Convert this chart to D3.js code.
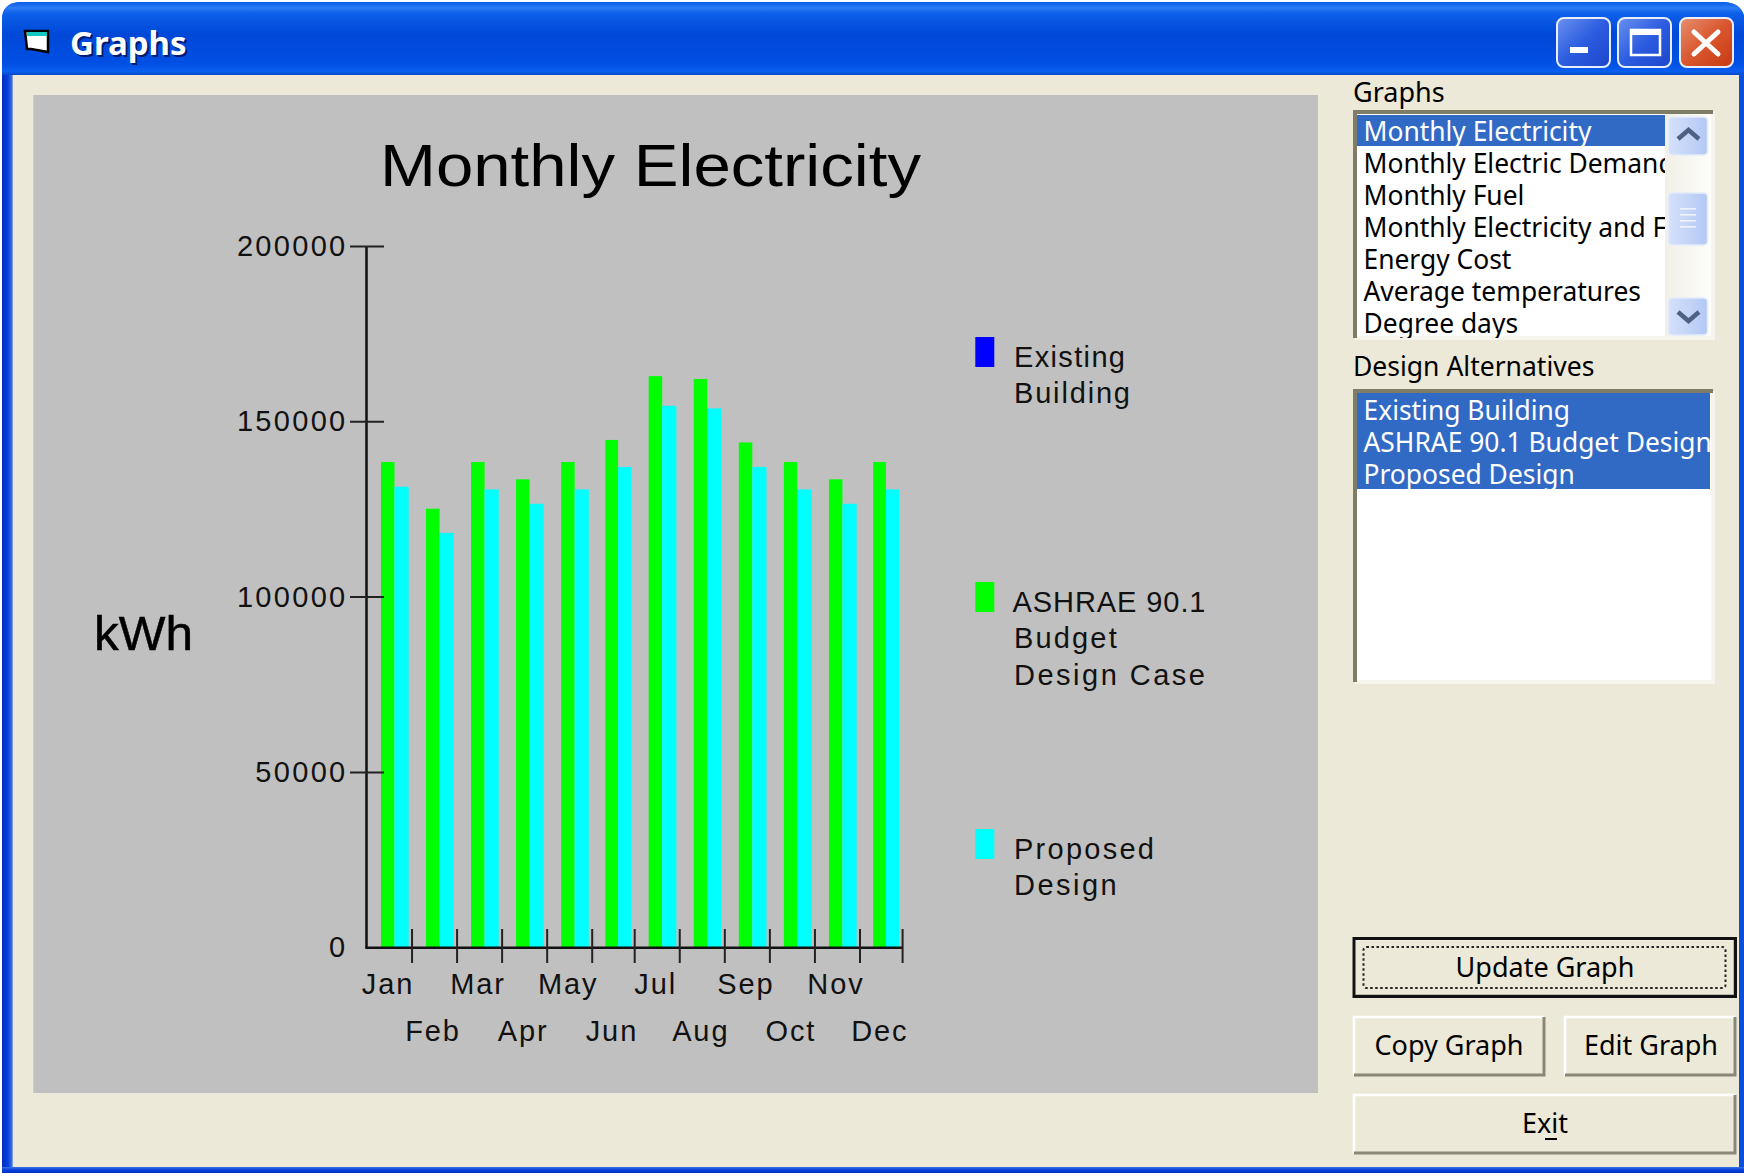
<!DOCTYPE html>
<html><head><meta charset="utf-8">
<script src="https://cdnjs.cloudflare.com/ajax/libs/d3/7.8.5/d3.min.js"></script>
<style>html,body{margin:0;padding:0;background:#fff;overflow:hidden}svg{display:block}</style>
</head><body>
<svg id="c" width="1744" height="1173"></svg>
<script>
const months=["Jan","Feb","Mar","Apr","May","Jun","Jul","Aug","Sep","Oct","Nov","Dec"];
const existingBuilding=[0,0,0,0,0,0,0,0,0,0,0,0];
const ashraeBudget=[138500,125200,138500,133570,138500,144800,163000,162200,144100,138500,133570,138500];
const proposedDesign=[131470,118300,130700,126600,130700,137100,154550,153800,137100,130700,126600,130700];
const yTicks=[0,50000,100000,150000,200000];
const graphsList=["Monthly Electricity","Monthly Electric Demand","Monthly Fuel","Monthly Electricity and Fuel","Energy Cost","Average temperatures","Degree days"];
const alternativesList=["Existing Building","ASHRAE 90.1 Budget Design Case","Proposed Design"];
const legendLabels=[["Existing","Building"],["ASHRAE 90.1","Budget","Design Case"],["Proposed","Design"]];
const legendColors=["#0000ff","#00ff00","#00ffff"];

const svg=d3.select("#c");
const defs=svg.append("defs");
function grad(id,stops,x2=0,y2=1){const g=defs.append("linearGradient").attr("id",id).attr("x1",0).attr("y1",0).attr("x2",x2).attr("y2",y2);
 stops.forEach(s=>g.append("stop").attr("offset",s[0]).attr("stop-color",s[1]));}
grad("title",[[0,"#0a5ce8"],[0.08,"#2a7cf6"],[0.16,"#0c5fe8"],[0.45,"#0048d8"],[0.85,"#0050e4"],[0.95,"#0a5ff0"],[1,"#0648c8"]]);
grad("btnB",[[0,"#6a92f0"],[0.5,"#2c5ce0"],[1,"#1c46cc"]],1,1);
grad("btnR",[[0,"#e88f70"],[0.5,"#d8562e"],[1,"#c83a10"]],1,1);
grad("scr",[[0,"#d5e1fa"],[1,"#b3c8f5"]],1,0);
grad("track",[[0,"#f1f0e6"],[1,"#fdfdfa"]],1,0);
grad("side",[[0,"#0030c0"],[0.6,"#0840dc"],[1,"#3a70e4"]],1,0);
grad("bot",[[0,"#3a70e4"],[0.5,"#0840dc"],[1,"#0030c0"]],0,1);
const sans="'Liberation Sans',Arial,sans-serif", ui="'Noto Sans',Tahoma,sans-serif";
const R=(p,x,y,w,h,f)=>p.append("rect").attr("x",x).attr("y",y).attr("width",w).attr("height",h).attr("fill",f);
const T=(p,s,x,y,o={})=>p.append("text").text(s).attr("x",x).attr("y",y).attr("font-family",o.font||ui).attr("font-size",o.size||27)
  .attr("fill",o.fill||"#000").attr("text-anchor",o.anchor||"start").attr("letter-spacing",o.ls||0).attr("font-weight",o.weight||400);

// window frame
svg.append("path").attr("d","M2,1173V20Q2,3 20,2H1724Q1741,3 1744,16V1173Z").attr("fill","#0a4fdc");
R(svg,2,75,10,1098,"url(#side)");
R(svg,2,1167,1742,6,"url(#bot)");
svg.append("path").attr("d","M2,75V20Q2,3 20,2H1724Q1741,3 1744,16V75Z").attr("fill","url(#title)");
R(svg,12.5,75,1726.5,1092,"#ece9d8");

// title bar
const ic=svg.append("g");
ic.append("path").attr("d","M25,31H48V52L31,49H27Z").attr("fill","#fff").attr("stroke","#000").attr("stroke-width",2.5);
R(ic,27,32,20,4,"#12c8c0");
T(svg,"Graphs",70,55,{size:33,fill:"#021a70",weight:700}).attr("transform","translate(2,2)");
T(svg,"Graphs",70,55,{size:33,fill:"#fff",weight:700});
function capBtn(x,fill){svg.append("rect").attr("x",x).attr("y",18).attr("width",53).attr("height",49).attr("rx",7).attr("fill",`url(#${fill})`).attr("stroke","#e8eefc").attr("stroke-width",2);}
capBtn(1557,"btnB");capBtn(1618,"btnB");capBtn(1680,"btnR");
R(svg,1570,47,18,6,"#fff");
svg.append("rect").attr("x",1631).attr("y",30).attr("width",29).attr("height",25).attr("fill","none").attr("stroke","#fff").attr("stroke-width",2.5);
R(svg,1631,30,29,5,"#fff");
svg.append("path").attr("d","M1694,32L1718,54M1718,32L1694,54").attr("stroke","#fff").attr("stroke-width",5).attr("stroke-linecap","round");

// chart panel
R(svg,33.3,95,1284.7,998,"#c0c0c0");
const y=d3.scaleLinear().domain([0,200000]).range([947.7,246.4]);
const x=d3.scaleLinear().domain([0,5,6,11,12]).range([367,592.2,634.7,860,902.6]);
const series=[{v:existingBuilding,c:legendColors[0],a:0.0,b:0.31},{v:ashraeBudget,c:legendColors[1],a:0.31,b:0.61},{v:proposedDesign,c:legendColors[2],a:0.61,b:0.925}];
const bars=svg.append("g");
series.forEach(s=>{bars.selectAll(null).data(months).join("rect")
  .attr("x",(d,i)=>x(i+s.a)).attr("width",(d,i)=>x(i+s.b)-x(i+s.a))
  .attr("y",(d,i)=>y(s.v[i])).attr("height",(d,i)=>y(0)-y(s.v[i])).attr("fill",s.c);});

T(svg,"Monthly Electricity",380,185.5,{size:60,font:sans}).attr("textLength",541).attr("lengthAdjust","spacingAndGlyphs");
T(svg,"kWh",94,650,{size:49,font:sans}).attr("textLength",99).attr("lengthAdjust","spacingAndGlyphs").attr("stroke","#000").attr("stroke-width",0.5);

const axY=svg.append("g");
axY.append("line").attr("x1",366.5).attr("x2",366.5).attr("y1",y(200000)).attr("y2",y(0)).attr("stroke","#111").attr("stroke-width",2.5);
axY.selectAll("line.t").data(yTicks.filter(d=>d>0)).join("line").attr("class","t").attr("x1",350).attr("x2",384).attr("y1",d=>y(d)).attr("y2",d=>y(d)).attr("stroke","#222").attr("stroke-width",2);
axY.selectAll("text").data(yTicks).join("text").text(d=>d).attr("x",347.5).attr("y",d=>y(d)+9.6).attr("text-anchor","end")
 .attr("font-family",sans).attr("font-size",29).attr("letter-spacing",2.3).attr("fill","#111");

const axX=svg.append("g");
axX.append("line").attr("x1",365.3).attr("x2",x(12)).attr("y1",y(0)).attr("y2",y(0)).attr("stroke","#111").attr("stroke-width",2.5);
axX.selectAll("line.t").data(months).join("line").attr("class","t").attr("x1",(d,i)=>x(i+1)).attr("x2",(d,i)=>x(i+1)).attr("y1",929).attr("y2",963).attr("stroke","#222").attr("stroke-width",2);
axX.selectAll("text").data(months).join("text").text(d=>d).attr("x",(d,i)=>x(i+0.5)-1.5).attr("y",(d,i)=>i%2?1040.5:993.5).attr("text-anchor","middle")
 .attr("font-family",sans).attr("font-size",29).attr("letter-spacing",1.9).attr("fill","#111");

// legend
const legendTop=[337,582,829];
const legendWidths=[[111,116],[193,102.7,191],[140,102.7]];
legendLabels.forEach((lines,k)=>{R(svg,975.3,legendTop[k],19,30,legendColors[k]);
 lines.forEach((t,i)=>T(svg,t,k==1&&i==0?1012.5:1014,legendTop[k]+29.5+i*36.5,{size:29,font:sans,fill:"#111"}).attr("textLength",legendWidths[k][i]));});

// lists
T(svg,"Graphs",1353,102,{size:27});
function sunken(x0,y0,w,h){R(svg,x0,y0,w,h,"#fff");
 svg.append("path").attr("d",`M${x0+w},${y0}V${y0+h}H${x0}`).attr("fill","none").attr("stroke","#f6f5ee").attr("stroke-width",4);
 svg.append("path").attr("d",`M${x0},${y0+h}V${y0}H${x0+w}`).attr("fill","none").attr("stroke","#7f7c68").attr("stroke-width",4);}
sunken(1355,112,358,226);
defs.append("clipPath").attr("id","cl1").append("rect").attr("x",1357).attr("y",114).attr("width",308).attr("height",224);
R(svg,1357,115,308,31,"#316ac5");
const g1=svg.append("g").attr("clip-path","url(#cl1)");
graphsList.forEach((t,i)=>T(g1,t,1363.5,141+i*32,{fill:i?"#000":"#fff",size:26.4}));
R(svg,1665,114,46,222,"url(#track)");
function scrollBtn(yy,h){svg.append("rect").attr("x",1668.5).attr("y",yy).attr("width",39).attr("height",h).attr("rx",4).attr("fill","url(#scr)").attr("stroke","#e4ecfb").attr("stroke-width",1.5);}
scrollBtn(117,38);scrollBtn(193,52);scrollBtn(298,37);
svg.append("path").attr("d","M1678,139L1688.5,130L1699,139").attr("fill","none").attr("stroke","#4d6185").attr("stroke-width",4.5);
svg.append("path").attr("d","M1678,312L1688.5,321L1699,312").attr("fill","none").attr("stroke","#4d6185").attr("stroke-width",4.5);
[208,214,220,226].forEach(v=>R(svg,1680,v,16,1.6,"#eef3fd"));

T(svg,"Design Alternatives",1353,376,{size:26.5});
sunken(1355,391,358,291);
defs.append("clipPath").attr("id","cl2").append("rect").attr("x",1357).attr("y",393).attr("width",353).attr("height",287);
R(svg,1357,393,353,96,"#316ac5");
const g2=svg.append("g").attr("clip-path","url(#cl2)");
alternativesList.forEach((t,i)=>T(g2,t,1363.5,420+i*32,{fill:"#fff",size:26.4}));

// buttons
function btn(x0,y0,w,h,t,tx,dy){R(svg,x0,y0,w,h,"#ece9d8");
 svg.append("path").attr("d",`M${x0},${y0+h}V${y0}H${x0+w}`).attr("fill","none").attr("stroke","#fff").attr("stroke-width",2.5);
 svg.append("path").attr("d",`M${x0+w},${y0}V${y0+h}H${x0}`).attr("fill","none").attr("stroke","#8a8776").attr("stroke-width",3);
 return T(svg,t,tx,y0+h/2+dy,{anchor:"middle"});}
btn(1354,1017,190,58,"Copy Graph",1449,9);
btn(1565,1017,170,58,"Edit Graph",1651,9);
btn(1354,1095,381,58,"Exit",1545,9);
R(svg,1545,1138,12,2,"#000");
btn(1354,939,381,57,"Update Graph",1545,9);
svg.append("rect").attr("x",1354).attr("y",938.5).attr("width",381.5).attr("height",58).attr("fill","none").attr("stroke","#111").attr("stroke-width",3);
svg.append("rect").attr("x",1363.5).attr("y",947).attr("width",362).attr("height",41).attr("rx",3).attr("fill","none").attr("stroke","#222").attr("stroke-width",2).attr("stroke-dasharray","2.5 2.5");
</script>
</body></html>
